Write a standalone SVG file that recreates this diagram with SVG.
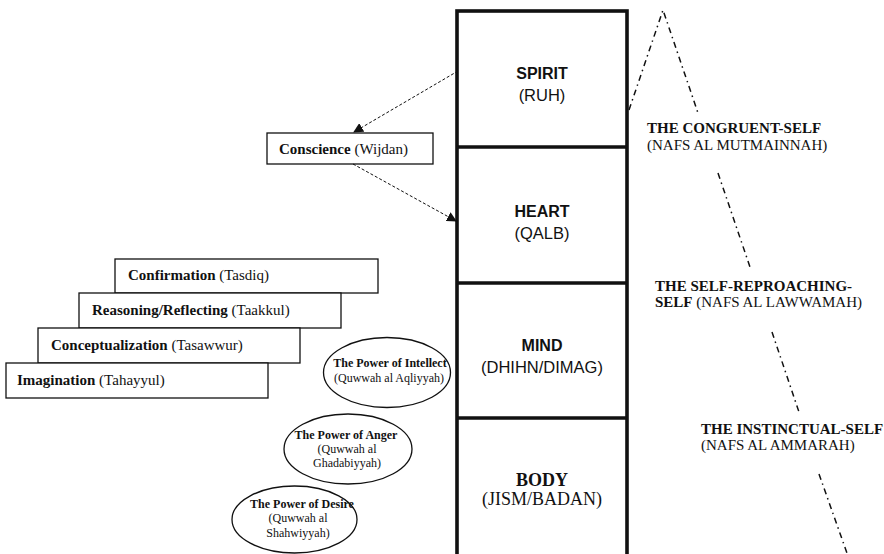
<svg xmlns="http://www.w3.org/2000/svg" width="884" height="554" viewBox="0 0 884 554">
<style>
.serif{font-family:"Liberation Serif","Times New Roman",serif;fill:#111}
.sans{font-family:"Liberation Sans",Arial,sans-serif;fill:#111}
.b{font-weight:bold}
.box{fill:#fff;stroke:#111;stroke-width:1.3}
.ell{fill:#fff;stroke:#111;stroke-width:1.3}
.col{fill:none;stroke:#111;stroke-width:3.6}
.dash{fill:none;stroke:#111;stroke-width:1;stroke-dasharray:3 2}
.dd{fill:none;stroke:#111;stroke-width:1.5;stroke-dasharray:6 4 1.5 4}
</style>
<defs>
<marker id="arr" viewBox="0 0 10 10" refX="9" refY="5" markerWidth="10" markerHeight="10" markerUnits="userSpaceOnUse" orient="auto">
<path d="M0,0 L10,5 L0,10 Z" fill="#111"/>
</marker>
</defs>
<rect width="884" height="554" fill="#fff"/>

<g id="column">
<rect class="col" x="457" y="11" width="170" height="600"/>
<line class="col" x1="457" y1="147" x2="627" y2="147"/>
<line class="col" x1="457" y1="283" x2="627" y2="283"/>
<line class="col" x1="457" y1="418" x2="627" y2="418"/>
</g>
<g id="spirit">
<text class="sans b" x="542" y="79" font-size="16" text-anchor="middle">SPIRIT</text>
<text class="sans" x="542" y="101" font-size="16.5" text-anchor="middle">(RUH)</text>
</g>
<g id="heart">
<text class="sans b" x="542" y="217" font-size="16" text-anchor="middle">HEART</text>
<text class="sans" x="542" y="239" font-size="16.5" text-anchor="middle">(QALB)</text>
</g>
<g id="mind">
<text class="sans b" x="542" y="351" font-size="16" text-anchor="middle">MIND</text>
<text class="sans" x="542" y="373" font-size="16.5" text-anchor="middle">(DHIHN/DIMAG)</text>
</g>
<g id="body">
<text class="serif b" x="542" y="486" font-size="18" text-anchor="middle">BODY</text>
<text class="serif" x="542" y="505" font-size="18" text-anchor="middle">(JISM/BADAN)</text>
</g>

<g id="conscience">
<rect class="box" x="267" y="133" width="166" height="31"/>
<text class="serif" x="279" y="154" font-size="15"><tspan class="b">Conscience</tspan> (Wijdan)</text>
</g>

<g id="confirmation">
<rect class="box" x="115" y="259" width="263" height="34"/>
<text class="serif" x="128" y="280" font-size="15"><tspan class="b">Confirmation</tspan> (Tasdiq)</text>
</g>
<g id="reasoning">
<rect class="box" x="79" y="293" width="262" height="35"/>
<text class="serif" x="92" y="315" font-size="15"><tspan class="b">Reasoning/Reflecting</tspan> (Taakkul)</text>
</g>
<g id="conceptualization">
<rect class="box" x="38" y="328" width="262" height="35"/>
<text class="serif" x="51" y="350" font-size="15"><tspan class="b">Conceptualization</tspan> (Tasawwur)</text>
</g>
<g id="imagination">
<rect class="box" x="6" y="363" width="262" height="35"/>
<text class="serif" x="17" y="385" font-size="15"><tspan class="b">Imagination</tspan> (Tahayyul)</text>
</g>

<g id="intellect">
<ellipse class="ell" cx="387" cy="372.5" rx="63.5" ry="35"/>
<text class="serif b" x="390" y="367" font-size="12" text-anchor="middle">The Power of Intellect</text>
<text class="serif" x="389" y="382" font-size="12" text-anchor="middle">(Quwwah al Aqliyyah)</text>
</g>
<g id="anger">
<ellipse class="ell" cx="348" cy="449" rx="64" ry="35"/>
<text class="serif b" x="346" y="439" font-size="12" text-anchor="middle">The Power of Anger</text>
<text class="serif" x="347" y="453" font-size="12" text-anchor="middle">(Quwwah al</text>
<text class="serif" x="347" y="467" font-size="12" text-anchor="middle">Ghadabiyyah)</text>
</g>
<g id="desire">
<ellipse class="ell" cx="294.5" cy="519.5" rx="62.5" ry="33.5"/>
<text class="serif b" x="302" y="508" font-size="12" text-anchor="middle">The Power of Desire</text>
<text class="serif" x="298" y="522" font-size="12" text-anchor="middle">(Quwwah al</text>
<text class="serif" x="298" y="537" font-size="12" text-anchor="middle">Shahwiyyah)</text>
</g>

<g id="congruent">
<text class="serif b" x="647" y="133" font-size="15">THE CONGRUENT-SELF</text>
<text class="serif" x="647" y="150" font-size="15">(NAFS AL MUTMAINNAH)</text>
</g>
<g id="reproaching">
<text class="serif b" x="655" y="291" font-size="15">THE SELF-REPROACHING-</text>
<text class="serif" x="655" y="307" font-size="15"><tspan class="b">SELF</tspan> (NAFS AL LAWWAMAH)</text>
</g>
<g id="instinctual">
<text class="serif b" x="701" y="434" font-size="15">THE INSTINCTUAL-SELF</text>
<text class="serif" x="701" y="450" font-size="15">(NAFS AL AMMARAH)</text>
</g>

<g id="connectors">
<line class="dash" x1="458" y1="71" x2="354" y2="132" marker-end="url(#arr)"/>
<line class="dash" x1="353" y1="164" x2="456" y2="221" marker-end="url(#arr)"/>
<polyline class="dd" points="629,110 663,10 698,113"/>
<line class="dd" x1="718" y1="173" x2="751" y2="270"/>
<line class="dd" x1="772" y1="332" x2="800" y2="415"/>
<line class="dd" x1="819" y1="474" x2="848" y2="556"/>
</g>
</svg>
